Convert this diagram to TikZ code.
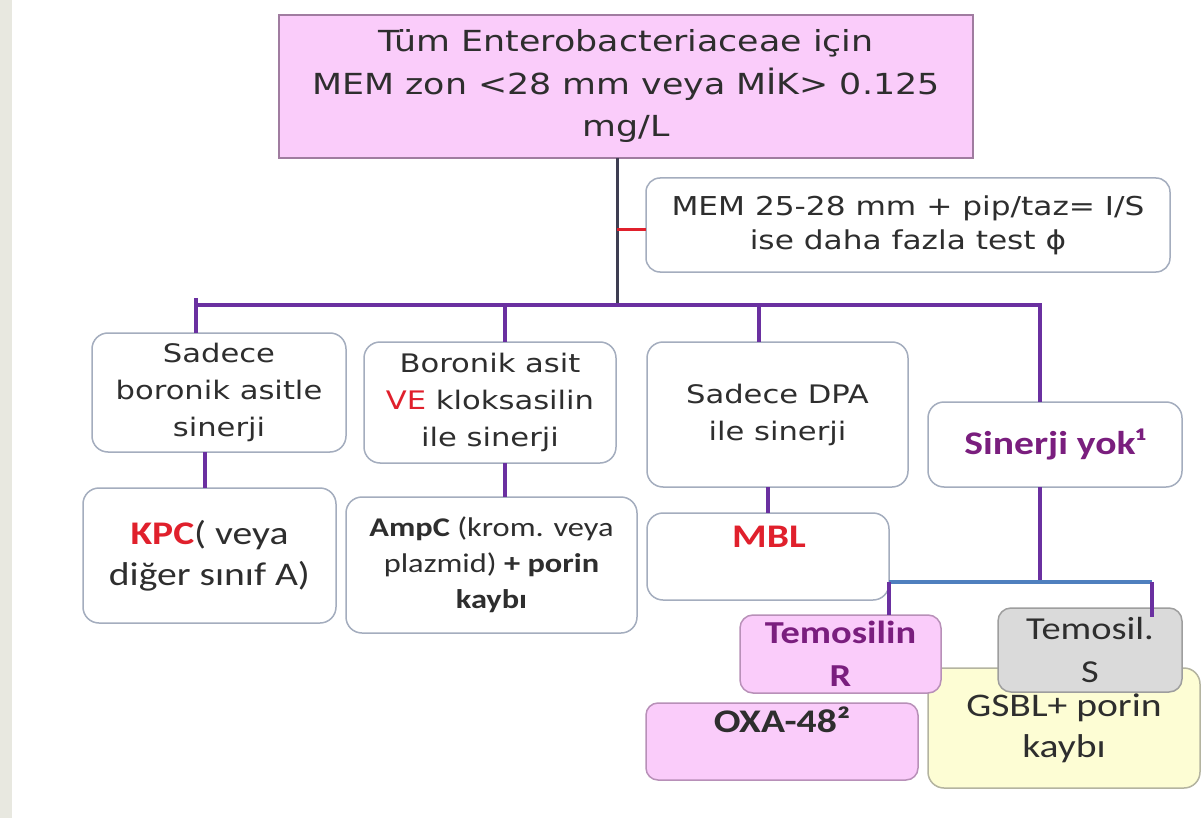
\documentclass[tikz,border=0pt]{standalone}
\usepackage{fontspec}
\setmainfont[FakeStretch=1.2]{Carlito}
\newfontfamily\comic[FakeStretch=1.2]{DejaVu Sans}
\definecolor{strip}{HTML}{E8E8E0}
\definecolor{pinkfill}{HTML}{FACCFA}
\definecolor{pinkdraw}{HTML}{A07CA0}
\definecolor{boxdraw}{HTML}{A4ADBE}
\definecolor{purpleline}{HTML}{6A30A0}
\definecolor{trunkc}{HTML}{3E3E52}
\definecolor{redc}{HTML}{E0202C}
\definecolor{bluec}{HTML}{4F7FBE}
\definecolor{purpletext}{HTML}{7A1E7E}
\definecolor{txt}{HTML}{2E2E2E}
\definecolor{greyfill}{HTML}{DADADA}
\definecolor{greydraw}{HTML}{9E9E9E}
\definecolor{yellowfill}{HTML}{FDFDD4}
\definecolor{yellowdraw}{HTML}{B4B4A0}
\definecolor{oxadraw}{HTML}{B890B8}
\tikzset{
  base/.style={line width=1.5pt, inner sep=0pt, outer sep=0pt, align=center, text=txt},
  cbox/.style={base, draw=boxdraw, fill=white, rounded corners=16pt},
  ctext/.style={font={\comic\fontsize{25.5}{37}\selectfont}},
  ktext/.style={font={\fontsize{33}{41}\selectfont}},
  pline/.style={draw=purpleline, line width=4pt},
  bline/.style={draw=bluec, line width=4pt},
  trunk/.style={draw=trunkc, line width=3pt},
  rline/.style={draw=redc, line width=3pt},
}
\begin{document}
\begin{tikzpicture}[x=1pt,y=-1pt]
\useasboundingbox (0,0) rectangle (1201,818);
\fill[white] (0,0) rectangle (1201,818);
\fill[strip] (0,0) rectangle (12,818);

% top box
\node[base, draw=pinkdraw, fill=pinkfill, minimum width=694pt, minimum height=143pt,
      font={\comic\fontsize{29}{42.5}\selectfont}] (top) at (626,86.5)
  {Tüm Enterobacteriaceae için\\MEM zon <28 mm veya MİK> 0.125\\mg/L};

% note box
\node[cbox, rounded corners=14pt, minimum width=524pt, minimum height=94pt,
      font={\comic\fontsize{26}{34}\selectfont}] (note) at (908,225)
  {MEM 25-28 mm + pip/taz= I/S\\ise daha fazla test ϕ};

% level 1 boxes
\node[cbox, ctext, minimum width=254pt, minimum height=119pt] (A) at (219,392.5)
  {Sadece\\boronik asitle\\sinerji};
\node[cbox, ctext, minimum width=252pt, minimum height=121pt] (B) at (490,402.5)
  {Boronik asit\\\textcolor{redc}{VE} kloksasilin\\ile sinerji};
\node[cbox, ctext, minimum width=261pt, minimum height=145pt] (C) at (777.5,414.5)
  {Sadece DPA\\ile sinerji};
\node[cbox, ktext, text=purpletext, minimum width=254pt, minimum height=85pt] (D) at (1055,444.5)
  {\textbf{Sinerji yok¹}};

% level 2 boxes
\node[cbox, ktext, minimum width=253pt, minimum height=135pt] (KPC) at (209.5,555.5)
  {\textcolor{redc}{\textbf{KPC}}( veya\\diğer sınıf A)};
\node[cbox, font={\fontsize{27}{36}\selectfont}, minimum width=291pt, minimum height=136pt] (AmpC) at (491.5,565)
  {\textbf{AmpC} (krom. veya\\plazmid) \textbf{+ porin}\\\textbf{kaybı}};
\node[cbox, minimum width=242pt, minimum height=87pt] (MBL) at (768,556.5) {};
\node[ktext, text=redc, inner sep=0pt] (mbltext) at (769,537) {\textbf{MBL}};

% bottom right boxes
\node[base, draw=yellowdraw, fill=yellowfill, rounded corners=16pt, ktext,
      minimum width=272pt, minimum height=120pt] (G) at (1064,728) {GSBL+ porin\\kaybı};
\node[base, draw=oxadraw, fill=pinkfill, rounded corners=13pt, text=purpletext,
      font={\fontsize{32}{43}\selectfont}, minimum width=201pt, minimum height=78pt] (R) at (840.5,654)
  {\textbf{Temosilin}\\\textbf{R}};
\node[base, draw=greydraw, fill=greyfill, rounded corners=13pt,
      font={\fontsize{32}{43}\selectfont}, minimum width=184pt, minimum height=84pt] (S) at (1090,650)
  {Temosil.\\S};
\node[base, draw=oxadraw, fill=pinkfill, rounded corners=12pt,
      minimum width=272pt, minimum height=77pt] (OXA) at (782,741.5) {};
\node[ktext, text=txt, inner sep=0pt] (oxatext) at (782,720) {\textbf{OXA-48²}};

% connectors
\coordinate (busL) at (196,305);
\coordinate (busR) at (1040,305);
\coordinate (tb) at (617,305);
\coordinate (b2) at (505,305);
\coordinate (b3) at (759,305);
\coordinate (bb) at (1040,582);
\coordinate (blL) at (889,582);
\coordinate (blR) at (1152,582);
\coordinate (sdrop) at (1152,617);

\draw[trunk] (tb |- top.south) -- (tb);
\draw[rline] ([yshift=-5pt]tb |- note.west) -- ([yshift=-5pt]note.west);
\draw[pline] (busL) -- (busR) -- (busR |- D.north);
\draw[pline] ([yshift=7pt]busL) -- (busL |- A.north);
\draw[pline] (b2) -- (b2 |- B.north);
\draw[pline] (b3) -- (b3 |- C.north);
\draw[pline] ([xshift=-14pt]A.south) -- ([xshift=-14pt]A.south |- KPC.north);
\draw[pline] ([xshift=15pt]B.south) -- ([xshift=15pt]B.south |- AmpC.north);
\draw[pline] (MBL.north |- C.south) -- (MBL.north);
\draw[pline] (busR |- D.south) -- (bb);
\draw[bline] (blL) -- (blR);
\draw[pline] (blL) -- (blL |- R.north);
\draw[pline] (blR) -- (sdrop);
\end{tikzpicture}
\end{document}
